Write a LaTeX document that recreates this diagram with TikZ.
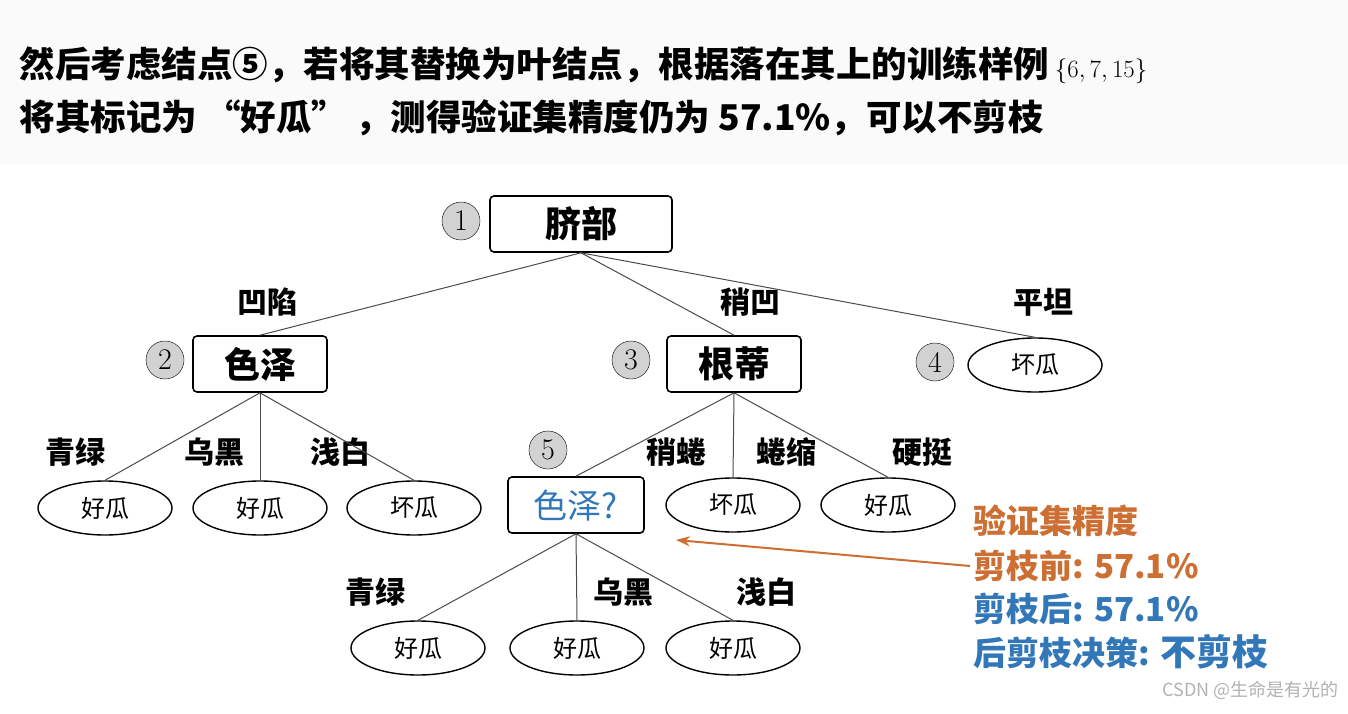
\documentclass[tikz,border=0pt]{standalone}
\usepackage{fontspec}
\newfontfamily\cjk{Noto Sans CJK SC}
\usetikzlibrary{shapes.geometric,arrows.meta}
\definecolor{org}{RGB}{205,110,50}
\definecolor{blu}{RGB}{50,120,185}
\tikzset{
 box/.style={draw,line width=1.6pt,rounded corners=4pt,minimum width=134pt,minimum height=56pt,font=\cjk\bfseries\fontsize{36}{36}\selectfont},
 leaf/.style={draw,line width=1.4pt,ellipse,minimum width=134pt,minimum height=54pt,font=\cjk\fontsize{24}{24}\selectfont},
 num/.style={circle,draw,fill=gray!35,minimum size=38pt,inner sep=0pt,font=\fontsize{30}{30}\selectfont},
 lab/.style={font=\cjk\bfseries\fontsize{30}{30}\selectfont},
 edge/.style={gray!60!black,line width=1pt},
 rt/.style={anchor=west,font=\cjk\bfseries\fontsize{33}{33}\selectfont}
}
\begin{document}
\begin{tikzpicture}[x=1pt,y=-1pt]
\useasboundingbox[fill=white] (0,0) rectangle (1348,714);
\fill[gray!4] (0,0) rectangle (1348,165);
\node[anchor=west,font=\cjk\bfseries\fontsize{35.5}{36}\selectfont] (t1) at (16,65) {然后考虑结点⑤，若将其替换为叶结点，根据落在其上的训练样例\,\normalfont\fontsize{36}{36}\selectfont$\{6,7,15\}$};
\node[anchor=west,font=\cjk\bfseries\fontsize{35.5}{36}\selectfont] (t2) at (16,118) {将其标记为 “好瓜” ，测得验证集精度仍为 57.1\%，可以不剪枝};
\node[box,minimum width=182pt] (r) at (581,224) {脐部};
\node[num] (n1) at (461,221) {1};
\node[box] (a) at (260,364) {色泽};
\node[num] (n2) at (165,360) {2};
\node[box] (b) at (734,364) {根蒂};
\node[num] (n3) at (631,360) {3};
\node[leaf] (c) at (1035,365) {坏瓜};
\node[num] (n4) at (935,362) {4};
\node[lab] (l1) at (267,302) {凹陷};
\node[lab] (l2) at (750,302) {稍凹};
\node[lab] (l3) at (1043,302) {平坦};
\draw[edge] (r.south) -- (a.north);
\draw[edge] (r.south) -- (b.north);
\draw[edge] (r.south) -- (c.north);
\node[leaf] (a1) at (105,508) {好瓜};
\node[leaf] (a2) at (260,508) {好瓜};
\node[leaf] (a3) at (414,508) {坏瓜};
\node[lab] (m1) at (75,452) {青绿};
\node[lab] (m2) at (214,452) {乌黑};
\node[lab] (m3) at (340,452) {浅白};
\draw[edge] (a.south) -- (a1.north);
\draw[edge] (a.south) -- (a2.north);
\draw[edge] (a.south) -- (a3.north);
\node[box,text=blu,font=\cjk\fontsize{34}{34}\selectfont,minimum width=136pt] (d) at (576,505) {色泽?};
\node[num] (n5) at (548,450) {5};
\node[leaf] (b2) at (733,505) {坏瓜};
\node[leaf] (b3) at (888,505) {好瓜};
\node[lab] (k1) at (676,452) {稍蜷};
\node[lab] (k2) at (786,452) {蜷缩};
\node[lab] (k3) at (922,452) {硬挺};
\draw[edge] (b.south) -- (d.north);
\draw[edge] (b.south) -- (b2.north);
\draw[edge] (b.south) -- (b3.north);
\node[leaf] (d1) at (418,648) {好瓜};
\node[leaf] (d2) at (577,648) {好瓜};
\node[leaf] (d3) at (733,648) {好瓜};
\node[lab] (p1) at (375,592) {青绿};
\node[lab] (p2) at (623,592) {乌黑};
\node[lab] (p3) at (766,592) {浅白};
\draw[edge] (d.south) -- (d1.north);
\draw[edge] (d.south) -- (d2.north);
\draw[edge] (d.south) -- (d3.north);
\node[rt,text=org] (s1) at (970,521) {验证集精度};
\node[rt,text=org] (s2) at (970,566) {剪枝前: 57.1\%};
\node[rt,text=blu] (s3) at (970,609) {剪枝后: 57.1\%};
\node[rt,text=blu] (s4) at (970,652) {后剪枝决策: \fontsize{36}{36}\selectfont 不剪枝};
\coordinate (ae) at (676,540);
\draw[org,line width=2pt,-{Stealth[length=14pt,width=10pt]}] (s2.west) -- (ae);
\node[text=gray!60,font=\cjk\fontsize{18}{18}\selectfont,anchor=east] (w) at (1342,690) {CSDN @生命是有光的};
\end{tikzpicture}
\end{document}
